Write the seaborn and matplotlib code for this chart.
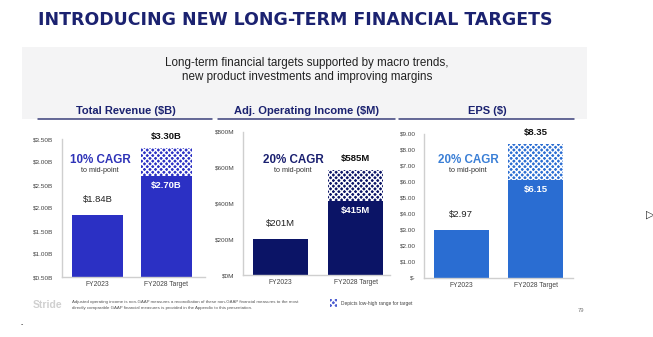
import matplotlib
matplotlib.use("Agg")
import matplotlib.pyplot as plt
import seaborn as sns
import pandas as pd
from matplotlib.patches import Rectangle
from matplotlib.lines import Line2D

# ---- data ----
categories = ["FY2023", "FY2028 Target"]
rev_base = [1.84, 2.70]
rev_high = [1.84, 3.30]
oi_base = [201, 415]
oi_high = [201, 585]
eps_base = [2.97, 6.15]
eps_high = [2.97, 8.35]

rev_ticks = [0.5, 1.0, 1.5, 2.0, 2.5, 3.0, 3.5]
rev_ticklabels = ["$0.50B", "$1.00B", "$1.50B", "$2.00B", "$2.50B", "$3.00B", "$3.50B"]
oi_ticks = [0, 200, 400, 600, 800]
oi_ticklabels = ["$0M", "$200M", "$400M", "$600M", "$800M"]
eps_ticks = [0, 1, 2, 3, 4, 5, 6, 7, 8, 9]
eps_ticklabels = ["$-", "$1.00", "$2.00", "$3.00", "$4.00", "$5.00", "$6.00", "$7.00", "$8.00", "$9.00"]

rev_labels = ["$1.84B", "$2.70B", "$3.30B"]
oi_labels = ["$201M", "$415M", "$585M"]
eps_labels = ["$2.97", "$6.15", "$8.35"]

sns.set_style("white")
plt.rcParams["font.family"] = ["Liberation Sans", "DejaVu Sans"]
plt.rcParams["hatch.linewidth"] = 1.0

W, H = 653, 337
fig = plt.figure(figsize=(W / 100, H / 100), dpi=100)
fig.patch.set_facecolor("white")

def fx(x):
    return x / W

def fy(y):
    return 1 - y / H

NAVY = "#1b2270"

# gray header panel
fig.patches.append(Rectangle((fx(22), fy(119)), fx(587) - fx(22), fy(47) - fy(119),
                             transform=fig.transFigure, facecolor="#f4f4f5",
                             edgecolor="none", zorder=0))

fig.text(fx(295.5), fy(20), "INTRODUCING NEW LONG-TERM FINANCIAL TARGETS",
         ha="center", va="center", fontsize=12.5, fontweight="bold", color=NAVY,
         family="DejaVu Sans")
fig.text(fx(307), fy(63), "Long-term financial targets supported by macro trends,",
         ha="center", va="center", fontsize=8.4, color="#222222")
fig.text(fx(307), fy(77), "new product investments and improving margins",
         ha="center", va="center", fontsize=8.4, color="#222222")

panels = [
    dict(title="Total Revenue ($B)", tcx=126, ul=(38, 212),
         axx=(62, 205), axy=(139, 277), ylim=(0.5, 3.5), xlim=(-0.514, 1.56),
         base=rev_base, high=rev_high, labels=rev_labels,
         ticks=rev_ticks, ticklabels=rev_ticklabels,
         color="#2b30c4", cagr="10% CAGR", cagrcolor="#2e33b8", cagrx=100),
    dict(title="Adj. Operating Income ($M)", tcx=306, ul=(218, 395),
         axx=(243, 390), axy=(132, 275), ylim=(0, 800), xlim=(-0.5, 1.46),
         base=oi_base, high=oi_high, labels=oi_labels,
         ticks=oi_ticks, ticklabels=oi_ticklabels,
         color="#0b1466", cagr="20% CAGR", cagrcolor="#1a2070", cagrx=293),
    dict(title="EPS ($)", tcx=487, ul=(399, 574),
         axx=(424, 573), axy=(134, 278), ylim=(0, 9), xlim=(-0.503, 1.5),
         base=eps_base, high=eps_high, labels=eps_labels,
         ticks=eps_ticks, ticklabels=eps_ticklabels,
         color="#2a6dd2", cagr="20% CAGR", cagrcolor="#3a7fd6", cagrx=468),
]

for p in panels:
    fig.text(fx(p["tcx"]), fy(111), p["title"], ha="center", va="center",
             fontsize=8.0, fontweight="bold", color=NAVY)
    fig.lines.append(Line2D([fx(p["ul"][0]), fx(p["ul"][1])], [fy(119), fy(119)],
                            transform=fig.transFigure, color="#3a3f7a", lw=1.1))

    x0, x1 = p["axx"]
    ytop, ybot = p["axy"]
    ax = fig.add_axes([fx(x0), fy(ybot), fx(x1) - fx(x0), fy(ytop) - fy(ybot)])
    ax.set_facecolor("white")

    df_high = pd.DataFrame({"cat": categories, "val": p["high"]})
    df_base = pd.DataFrame({"cat": categories, "val": p["base"]})
    sns.barplot(data=df_high, x="cat", y="val", color=p["color"], saturation=1,
                width=0.74, ax=ax, errorbar=None)
    n_high = len(ax.patches)
    for patch in ax.patches[:n_high]:
        patch.set_hatch("xxxxxx")
        patch.set_edgecolor("#ffffff")
        patch.set_linewidth(0)
    sns.barplot(data=df_base, x="cat", y="val", color=p["color"], saturation=1,
                width=0.74, ax=ax, errorbar=None)
    for patch in ax.patches[n_high:]:
        patch.set_linewidth(0)

    ax.set_xlim(*p["xlim"])
    ax.set_ylim(*p["ylim"])
    ax.set_yticks(p["ticks"])
    ax.set_yticklabels(p["ticklabels"])
    ax.set_xlabel("")
    ax.set_ylabel("")
    ax.tick_params(axis="both", length=0, labelsize=4.6, colors="#444444", pad=6)
    ax.tick_params(axis="x", labelsize=4.9, pad=3)
    for s in ["top", "right"]:
        ax.spines[s].set_visible(False)
    for s in ["left", "bottom"]:
        ax.spines[s].set_color("#cfcfcf")
        ax.spines[s].set_linewidth(1.0)

    # value labels
    ax.annotate(p["labels"][0], (0, p["base"][0]), xytext=(0, 8), textcoords="offset points",
                ha="center", va="bottom", fontsize=6.8, color="#222222")
    ax.annotate(p["labels"][1], (1, p["base"][1]), xytext=(0, -4), textcoords="offset points",
                ha="center", va="top", fontsize=6.8, color="white", fontweight="bold")
    ax.annotate(p["labels"][2], (1, p["high"][1]), xytext=(0, 5), textcoords="offset points",
                ha="center", va="bottom", fontsize=6.8, color="#111111", fontweight="bold")

    fig.text(fx(p["cagrx"]), fy(160), p["cagr"], ha="center", va="center",
             fontsize=8.4, fontweight="bold", color=p["cagrcolor"])
    fig.text(fx(p["cagrx"]), fy(171), "to mid-point", ha="center", va="center",
             fontsize=5.2, color="#333333")

# footer
fig.text(fx(33), fy(305), "Stride", ha="left", va="center", fontsize=7.5,
         fontweight="bold", color="#d0d0d0")
fig.text(fx(72), fy(302.5), "Adjusted operating income is non-GAAP measures a reconciliation of these non-GAAP financial measures to the most",
         ha="left", va="center", fontsize=3.15, color="#555555")
fig.text(fx(72), fy(308.5), "directly comparable GAAP financial measures is provided in the Appendix to this presentation.",
         ha="left", va="center", fontsize=3.15, color="#555555")
fig.patches.append(Rectangle((fx(330), fy(307)), fx(337) - fx(330), fy(299) - fy(307),
                             transform=fig.transFigure, facecolor="#4a5ad0",
                             edgecolor="#ffffff", hatch="xxxxxx", lw=0, zorder=2))
fig.text(fx(341), fy(303), "Depicts low-high range for target", ha="left", va="center",
         fontsize=3.5, color="#444444")
fig.text(fx(578), fy(310), "79", ha="left", va="center", fontsize=4.2, color="#777777")
fig.text(fx(21), fy(325), "-", ha="left", va="center", fontsize=5, color="#222222")
fig.text(fx(650), fy(215), "\u25b7", ha="center", va="center", fontsize=8, color="#222222",
         family="DejaVu Sans")

fig.savefig("out.png", dpi=100, facecolor="white")
